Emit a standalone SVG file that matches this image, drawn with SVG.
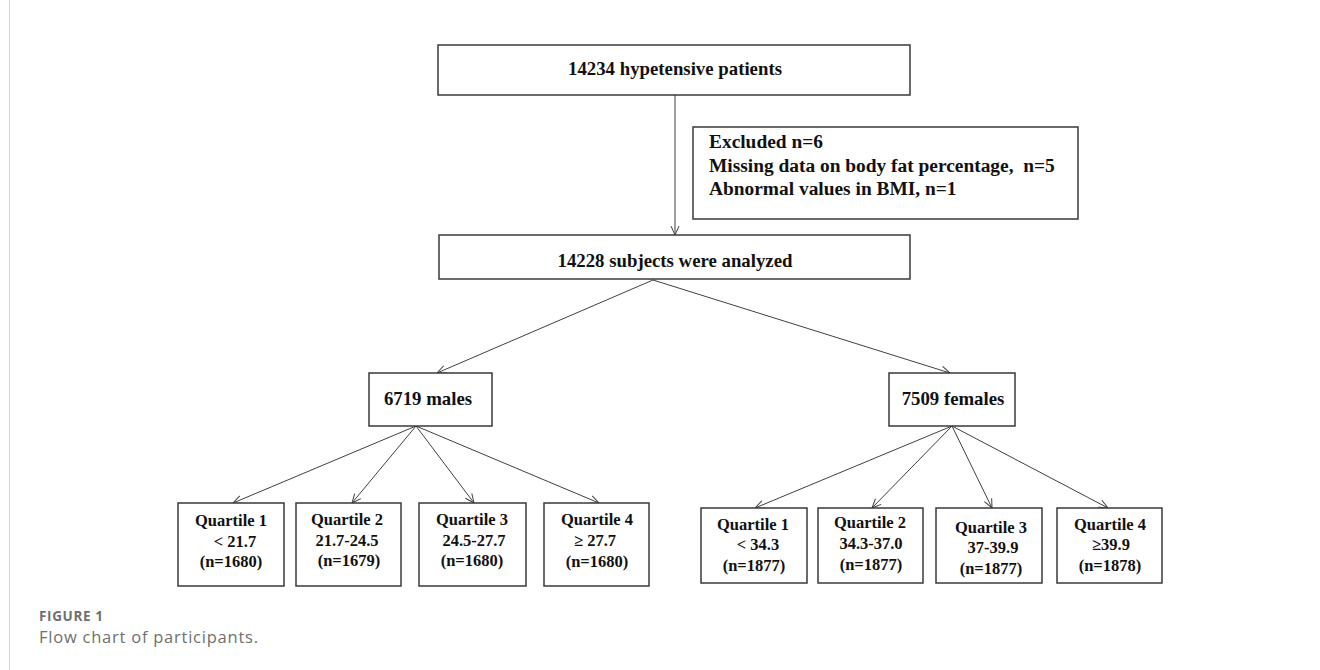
<svg xmlns="http://www.w3.org/2000/svg" width="1320" height="670" viewBox="0 0 1320 670">
<style>
.box{fill:#fff;stroke:#3a3a3a;stroke-width:1.5}
.t{font-family:"Liberation Serif","Times New Roman",serif;font-weight:bold;fill:#111;font-size:18.8px}
.tx{font-size:19.4px}
.q{font-family:"Liberation Serif","Times New Roman",serif;font-weight:bold;fill:#111;font-size:16.5px;text-anchor:middle}
.c{text-anchor:middle}
.ln{stroke:#404040;stroke-width:1;fill:none;marker-end:url(#ah)}
.cap{font-family:"Open Sans","Liberation Sans",sans-serif;fill:#6f6f6f}
</style>
<defs>
<marker id="ah" viewBox="0 0 10 10" refX="10" refY="5" markerWidth="10" markerHeight="10" markerUnits="userSpaceOnUse" orient="auto">
<path d="M1,1 L10,5 L1,9" fill="none" stroke="#404040" stroke-width="1"/>
</marker>
</defs>
<rect width="1320" height="670" fill="#fff"/>
<line x1="9.5" y1="0" x2="9.5" y2="670" stroke="#d4d4d4" stroke-width="1"/>

<g id="connectors">
<line class="ln" x1="675" y1="95" x2="675" y2="235"/>
<line class="ln" x1="653" y1="280" x2="437" y2="373"/>
<line class="ln" x1="653" y1="280" x2="950" y2="373"/>
<line class="ln" x1="416" y1="426" x2="233" y2="503"/>
<line class="ln" x1="416" y1="426" x2="352" y2="503"/>
<line class="ln" x1="416" y1="426" x2="474" y2="503"/>
<line class="ln" x1="416" y1="426" x2="599" y2="503"/>
<line class="ln" x1="952" y1="426" x2="755" y2="508"/>
<line class="ln" x1="952" y1="426" x2="872" y2="508"/>
<line class="ln" x1="952" y1="426" x2="992" y2="508"/>
<line class="ln" x1="952" y1="426" x2="1108" y2="508"/>
</g>

<g id="n-total">
<rect class="box" x="438" y="45" width="472" height="50"/>
<text class="t c" x="675" y="75">14234 hypetensive patients</text>
</g>

<g id="n-excluded">
<rect class="box" x="693" y="127" width="385" height="92"/>
<text class="t tx" x="709" y="148">Excluded n=6</text>
<text class="t tx" x="709" y="172" xml:space="preserve">Missing data on body fat percentage,  n=5</text>
<text class="t tx" x="709" y="195">Abnormal values in BMI, n=1</text>
</g>

<g id="n-analyzed">
<rect class="box" x="439" y="235" width="471" height="44"/>
<text class="t c" x="675" y="267">14228 subjects were analyzed</text>
</g>

<g id="n-males">
<rect class="box" x="369" y="373" width="123" height="53"/>
<text class="t c" x="428" y="405">6719 males</text>
</g>

<g id="n-females">
<rect class="box" x="889" y="373" width="126" height="53"/>
<text class="t c" x="953" y="405">7509 females</text>
</g>

<g id="m-q1">
<rect class="box" x="178" y="503" width="106" height="83"/>
<text class="q" x="231" y="526">Quartile 1</text>
<text class="q" x="235" y="547">&lt; 21.7</text>
<text class="q" x="231" y="567">(n=1680)</text>
</g>
<g id="m-q2">
<rect class="box" x="296" y="503" width="105" height="83"/>
<text class="q" x="347" y="525">Quartile 2</text>
<text class="q" x="347" y="546">21.7-24.5</text>
<text class="q" x="349" y="566">(n=1679)</text>
</g>
<g id="m-q3">
<rect class="box" x="419" y="503" width="107" height="83"/>
<text class="q" x="472" y="525">Quartile 3</text>
<text class="q" x="474" y="546">24.5-27.7</text>
<text class="q" x="472" y="566">(n=1680)</text>
</g>
<g id="m-q4">
<rect class="box" x="544" y="503" width="105" height="83"/>
<text class="q" x="597" y="525">Quartile 4</text>
<text class="q" x="595" y="546">≥ 27.7</text>
<text class="q" x="597" y="567">(n=1680)</text>
</g>

<g id="f-q1">
<rect class="box" x="701" y="508" width="106" height="75"/>
<text class="q" x="753" y="530">Quartile 1</text>
<text class="q" x="758" y="550">&lt; 34.3</text>
<text class="q" x="754" y="571">(n=1877)</text>
</g>
<g id="f-q2">
<rect class="box" x="818" y="508" width="105" height="75"/>
<text class="q" x="870" y="528">Quartile 2</text>
<text class="q" x="871" y="549">34.3-37.0</text>
<text class="q" x="871" y="570">(n=1877)</text>
</g>
<g id="f-q3">
<rect class="box" x="936" y="508" width="106" height="75"/>
<text class="q" x="991" y="533">Quartile 3</text>
<text class="q" x="993" y="553">37-39.9</text>
<text class="q" x="991" y="574">(n=1877)</text>
</g>
<g id="f-q4">
<rect class="box" x="1057" y="508" width="105" height="75"/>
<text class="q" x="1110" y="530">Quartile 4</text>
<text class="q" x="1111" y="550">≥39.9</text>
<text class="q" x="1110" y="571">(n=1878)</text>
</g>

<g id="caption">
<text class="cap" x="39" y="621" font-size="13.5" font-weight="bold" textLength="64">FIGURE 1</text>
<text class="cap" x="39" y="643" font-size="16.5" textLength="219">Flow chart of participants.</text>
</g>
</svg>
